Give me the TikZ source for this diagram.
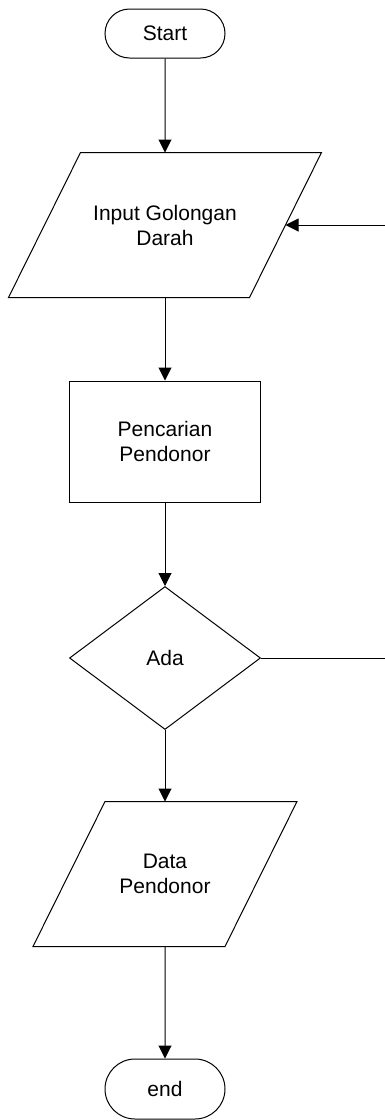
\documentclass[tikz,border=0pt]{standalone}
\usepackage{fontspec}
\setmainfont{Liberation Sans}
\usetikzlibrary{shapes.geometric,shapes.misc,arrows.meta}
\begin{document}
\begin{tikzpicture}[x=0.5pt,y=-0.5pt,>={Triangle[length=6.5pt,width=6.5pt]},
    line width=0.5pt,
    every node/.style={font=\fontsize{10.5}{12.5}\selectfont,align=center,inner sep=0pt},
    term/.style={draw,rounded rectangle,minimum width=60pt},
    io/.style={rectangle,minimum height=72pt},
    proc/.style={draw,rectangle,minimum width=95.5pt,minimum height=60.5pt},
    decision/.style={draw,diamond,minimum width=95.5pt,minimum height=71.5pt}]
    \useasboundingbox (0,0) rectangle (385,1120);
    \node[term,minimum height=24.5pt] (start) at (165,33.5) {Start};
    \node[io,minimum width=120pt] (inp) at (165,225) {Input Golongan\\Darah};
    \node[proc] (cari) at (165,441.5) {Pencarian\\Pendonor};
    \node[decision] (ada) at (165,658) {Ada};
    \node[io,minimum width=95.5pt] (data) at (165,874) {Data\\Pendonor};
    \node[term,minimum height=30pt] (end) at (165,1089) {end};
    % slanted sides of the input/output boxes
    \foreach \n in {inp,data}
        \draw ([xshift=18pt]\n.north west) -- ([xshift=18pt]\n.north east)
            -- ([xshift=-18pt]\n.south east) -- ([xshift=-18pt]\n.south west) -- cycle;
    \coordinate (back) at (385,225);
    \coordinate (tidak) at (385,658);
    \draw[->] (start) -- (inp);
    \draw[->] (back) -- (inp);
    \draw[->] (inp) -- (cari);
    \draw[->] (cari) -- (ada);
    \draw (ada) -- (tidak);
    \draw[->] (ada) -- (data);
    \draw[->] (data) -- (end);
\end{tikzpicture}
\end{document}
